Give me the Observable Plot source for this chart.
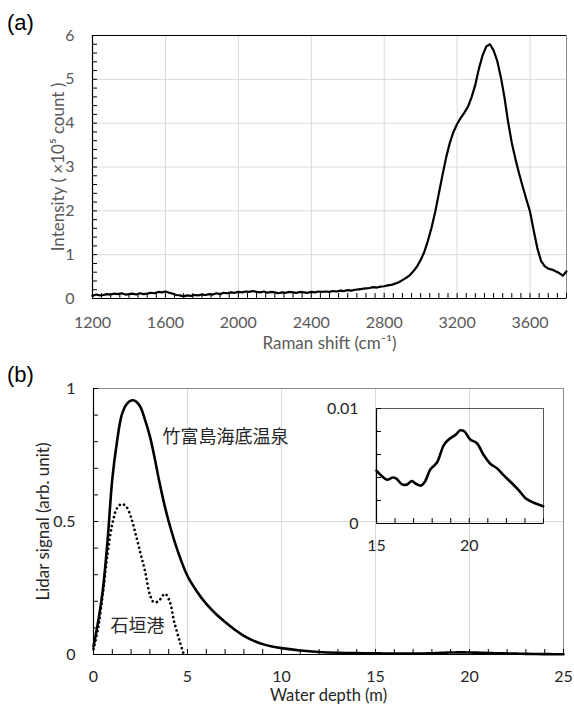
<!DOCTYPE html>
<html>
<head>
<meta charset="utf-8">
<script src="https://cdn.jsdelivr.net/npm/d3@7"></script>
<script src="https://cdn.jsdelivr.net/npm/@observablehq/plot@0.6"></script>
<style>
  body { margin: 0; background: #fff; }
  #root { position: relative; width: 574px; height: 704px; background: #fff; overflow: hidden; }
  #root svg { position: absolute; background: transparent; overflow: visible; }
  .panel { position: absolute; font-family: "Liberation Sans", Arial, sans-serif; font-size: 22px; color: #000; line-height: 1; }
</style>
</head>
<body>
<div id="root">
  <div class="panel" style="left:7px; top:12px;">(a)</div>
  <div class="panel" style="left:7px; top:364px;">(b)</div>
</div>
<script>
// ---------- Panel (a): Raman spectrum ----------
const ramanShift = [
  1200,1220,1240,1260,1280,1300,1320,1340,1360,1380,1400,1420,1440,1460,1480,1500,1520,1540,1560,1580,
  1600,1620,1640,1660,1680,1700,1720,1740,1760,1780,1800,1820,1840,1860,1880,1900,1920,1940,1960,1980,
  2000,2020,2040,2060,2080,2100,2120,2140,2160,2180,2200,2220,2240,2260,2280,2300,2320,2340,2360,2380,
  2400,2420,2440,2460,2480,2500,2520,2540,2560,2580,2600,2620,2640,2660,2680,2700,2720,2740,2760,2780,
  2800,2820,2840,2860,2880,2900,2920,2940,2960,2980,3000,3020,3040,3060,3080,3100,3120,3140,3160,3180,
  3200,3220,3240,3260,3280,3300,3320,3340,3360,3380,3400,3420,3440,3460,3480,3500,3520,3540,3560,3580,
  3600,3620,3640,3660,3680,3700,3720,3740,3760,3780,3800
];
const ramanIntensity = [
  0.06,0.09,0.07,0.08,0.10,0.09,0.11,0.10,0.12,0.09,0.10,0.11,0.09,0.12,0.10,0.11,0.13,0.12,0.15,0.14,
  0.16,0.13,0.11,0.08,0.07,0.05,0.07,0.06,0.08,0.07,0.09,0.08,0.10,0.09,0.12,0.10,0.13,0.12,0.14,0.13,
  0.15,0.14,0.16,0.15,0.17,0.15,0.14,0.16,0.13,0.15,0.14,0.12,0.14,0.13,0.15,0.14,0.13,0.15,0.14,0.13,
  0.15,0.14,0.16,0.15,0.16,0.15,0.17,0.16,0.18,0.17,0.19,0.18,0.20,0.21,0.22,0.23,0.24,0.26,0.25,0.27,
  0.28,0.30,0.31,0.34,0.37,0.42,0.47,0.53,0.62,0.73,0.88,1.06,1.32,1.62,1.98,2.40,2.82,3.22,3.55,3.80,
  3.98,4.12,4.24,4.38,4.60,4.88,5.25,5.55,5.75,5.80,5.66,5.42,5.05,4.58,4.02,3.55,3.18,2.85,2.55,2.26,
  1.98,1.55,1.15,0.86,0.74,0.68,0.66,0.62,0.58,0.52,0.62
];
const ramanXTicks = [1200,1600,2000,2400,2800,3200,3600];
const ramanYTicks = [0,1,2,3,4,5,6];
const ramanXMinor = d3.range(1200, 3801, 50);
const ramanYMinor = d3.range(0, 6.01, 0.2);

// ---------- Panel (b): Lidar signal ----------
const depthSolid = [
  0,0.25,0.5,0.75,1.0,1.25,1.5,1.75,2.0,2.25,2.5,2.75,3.0,3.25,3.5,3.75,4.0,4.5,5.0,5.5,
  6.0,6.5,7.0,7.5,8.0,8.5,9.0,9.5,10,11,12,13,14,
  15.0,15.3,15.57,15.88,16.07,16.38,16.65,16.9,17.08,17.42,17.63,17.9,18.26,18.62,18.89,19.25,19.52,19.74,
  20.05,20.4,20.76,21.13,21.49,21.85,22.3,22.66,23.03,23.48,23.98,24.5,25
];
const signalSolid = [
  0.03,0.125,0.245,0.43,0.66,0.80,0.90,0.94,0.955,0.952,0.93,0.88,0.82,0.74,0.65,0.57,0.50,0.385,0.295,0.237,
  0.19,0.153,0.122,0.094,0.070,0.052,0.039,0.030,0.024,0.015,0.0095,0.0065,0.005,
  0.0046,0.0041,0.0038,0.0040,0.0039,0.0034,0.0034,0.0037,0.0035,0.0033,0.0037,0.0047,0.0053,0.0068,0.0073,0.0077,0.0081,0.0080,
  0.0073,0.0070,0.0060,0.0052,0.0048,0.0042,0.0035,0.0029,0.0022,0.0018,0.0015,0.0012,0.0010
];
const depthDotted = [0,0.25,0.5,0.75,1.0,1.25,1.5,1.75,2.0,2.25,2.5,2.75,3.0,3.2,3.45,3.8,4.05,4.3,4.6,4.8];
const signalDotted = [0.02,0.10,0.23,0.38,0.49,0.55,0.566,0.555,0.515,0.45,0.38,0.31,0.225,0.197,0.20,0.228,0.20,0.12,0.046,0.0];

const lidarXTicks = [0,5,10,15,20,25];
const lidarYTicks = [0,0.5,1];
const lidarXMinor = d3.range(0, 25.01, 1);
const lidarYMinor = d3.range(0, 1.001, 0.1);

const insetXTicks = [15,20];
const insetYTicks = [0,0.01];
const insetXMinor = d3.range(15, 24.01, 1);
const insetYMinor = d3.range(0, 0.01001, 0.002);

const labelSolid = "竹富島海底温泉";
const labelDotted = "石垣港";

// tables
const raman = ramanShift.map((x, i) => ({x, y: ramanIntensity[i]}));
const solid = depthSolid.map((x, i) => ({x, y: signalSolid[i]}));
const dotted = depthDotted.map((x, i) => ({x, y: signalDotted[i]}));
const insetData = solid.filter(d => d.x >= 15 && d.x <= 24);

const root = document.getElementById("root");
const fmt = d => String(d);
const FONT = "Lato, 'Open Sans', sans-serif";

// ---- (a)
{
  const W = 574, H = 360, mL = 92, mR = 8, mT = 35, mB = 62;
  const fw = W - mL - mR, fh = H - mT - mB;
  const svg = Plot.plot({
    width: W, height: H, marginLeft: mL, marginRight: mR, marginTop: mT, marginBottom: mB,
    style: {fontFamily: FONT, fontSize: "16px", color: "#595959", background: "transparent"},
    x: {domain: [1200, 3800], ticks: ramanXTicks, tickSize: 0, tickPadding: 18, tickFormat: fmt, label: null},
    y: {domain: [0, 6], ticks: ramanYTicks, tickSize: 0, tickPadding: 18, tickFormat: fmt, label: null},
    marks: [
      Plot.ruleX(ramanXTicks, {stroke: "#d9d9d9", strokeWidth: 1}),
      Plot.ruleY(ramanYTicks, {stroke: "#d9d9d9", strokeWidth: 1}),
      Plot.frame({stroke: "#8c8c8c"}),
      Plot.ruleX([1200], {stroke: "#000", strokeWidth: 1.2}),
      Plot.ruleY([0, 6], {stroke: "#000", strokeWidth: 1.2}),
      Plot.ruleX(ramanXMinor, {insetTop: fh - 5, stroke: "#000"}),
      Plot.ruleY(ramanYMinor, {insetRight: fw - 5, stroke: "#000"}),
      Plot.line(raman, {x: "x", y: "y", stroke: "#000", strokeWidth: 2.2, curve: "linear"}),
      Plot.text(["Intensity ( ×10⁵ count )"], {text: d => d, frameAnchor: "left", textAnchor: "middle", lineAnchor: "middle", dx: -34, rotate: -90, fill: "#595959", fontSize: 17, fontFamily: FONT}),
      Plot.text(["Raman shift (cm⁻¹)"], {text: d => d, frameAnchor: "bottom", textAnchor: "middle", lineAnchor: "middle", dy: 45, fill: "#595959", fontSize: 17, fontFamily: FONT})
    ]
  });
  svg.style.left = "0px"; svg.style.top = "0px";
  root.appendChild(svg);
}

// ---- (b)
{
  const W = 574, H = 364, mL = 93, mR = 11, mT = 48, mB = 50;
  const fw = W - mL - mR, fh = H - mT - mB;
  const svg = Plot.plot({
    width: W, height: H, marginLeft: mL, marginRight: mR, marginTop: mT, marginBottom: mB,
    style: {fontFamily: FONT, fontSize: "16px", color: "#262626", background: "transparent"},
    x: {domain: [0, 25], ticks: lidarXTicks, tickSize: 0, tickPadding: 16, tickFormat: fmt, label: null},
    y: {domain: [0, 1], ticks: lidarYTicks, tickSize: 0, tickPadding: 18, tickFormat: fmt, label: null},
    marks: [
      Plot.ruleX(lidarXTicks, {stroke: "#d9d9d9", strokeWidth: 1}),
      Plot.ruleY(lidarYTicks, {stroke: "#d9d9d9", strokeWidth: 1}),
      Plot.frame({stroke: "#8c8c8c"}),
      Plot.ruleX([0], {stroke: "#000", strokeWidth: 1.2}),
      Plot.ruleY([0], {stroke: "#000", strokeWidth: 1.2}),
      Plot.ruleX(lidarXMinor, {insetTop: fh - 5, stroke: "#000"}),
      Plot.ruleY(lidarYMinor, {insetRight: fw - 5, stroke: "#000"}),
      Plot.line(dotted, {x: "x", y: "y", stroke: "#000", strokeWidth: 2.7, strokeDasharray: "0.01,4.6", strokeLinecap: "round", curve: "catmull-rom"}),
      Plot.line(solid, {x: "x", y: "y", stroke: "#000", strokeWidth: 2.6, curve: "catmull-rom"}),
      Plot.text([labelSolid], {text: d => d, x: 3.67, y: 0.816, textAnchor: "start", fill: "#262626", fontSize: 18, fontFamily: "'Noto Sans CJK JP', sans-serif"}),
      Plot.text([labelDotted], {text: d => d, x: 0.9, y: 0.105, textAnchor: "start", fill: "#262626", fontSize: 18, fontFamily: "'Noto Sans CJK JP', sans-serif"}),
      Plot.text(["Lidar signal (arb. unit)"], {text: d => d, frameAnchor: "left", textAnchor: "middle", lineAnchor: "middle", dx: -50, rotate: -90, fill: "#262626", fontSize: 17, fontFamily: FONT}),
      Plot.text(["Water depth (m)"], {text: d => d, frameAnchor: "bottom", textAnchor: "middle", lineAnchor: "middle", dy: 41, fill: "#262626", fontSize: 16.5, fontFamily: FONT})
    ]
  });
  svg.style.left = "0px"; svg.style.top = "340px";
  root.appendChild(svg);
}

// ---- inset
{
  const W = 240, H = 170, mL = 56, mR = 17, mT = 13, mB = 42;
  const fw = W - mL - mR, fh = H - mT - mB;
  const svg = Plot.plot({
    width: W, height: H, marginLeft: mL, marginRight: mR, marginTop: mT, marginBottom: mB,
    style: {fontFamily: FONT, fontSize: "16px", color: "#262626", background: "transparent"},
    x: {domain: [15, 24], ticks: insetXTicks, tickSize: 0, tickPadding: 16, tickFormat: fmt, label: null},
    y: {domain: [0, 0.01], ticks: insetYTicks, tickSize: 0, tickPadding: 18, tickFormat: fmt, label: null},
    marks: [
      Plot.frame({stroke: "#595959"}),
      Plot.ruleX([15], {stroke: "#000", strokeWidth: 1.2}),
      Plot.ruleY([0], {stroke: "#000", strokeWidth: 1.2}),
      Plot.ruleX(insetXMinor, {insetTop: fh - 5, stroke: "#000"}),
      Plot.ruleY(insetYMinor, {insetRight: fw - 5, stroke: "#000"}),
      Plot.line(insetData, {x: "x", y: "y", stroke: "#000", strokeWidth: 2.6, curve: "catmull-rom"})
    ]
  });
  svg.style.left = "320px"; svg.style.top = "395px";
  root.appendChild(svg);
}
</script>
</body>
</html>
